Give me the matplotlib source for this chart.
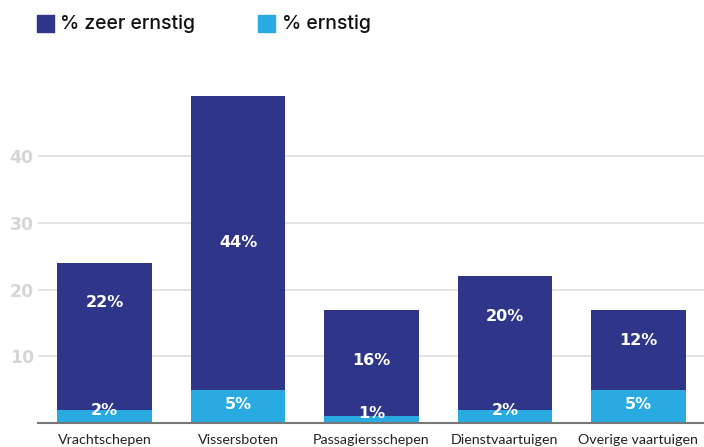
import numpy as np
import matplotlib
matplotlib.use('agg')
import matplotlib.pyplot as plt
from matplotlib.patches import Rectangle

categories = ['Vrachtschepen', 'Vissersboten', 'Passagiersschepen', 'Dienstvaartuigen', 'Overige vaartuigen']
ernstig = [2, 5, 1, 2, 5]
zeer_ernstig = [22, 44, 16, 20, 12]
yticks = [10, 20, 30, 40]

# label heights (layout)
lbl_top = [18.1, 27.0, 9.4, 15.9, 12.4]
lbl_bot = [1.9, 2.7, 1.4, 1.8, 2.7]

navy = '#2f3589'
blue = '#29abe2'

plt.rcParams['font.family'] = ['Lato', 'DejaVu Sans']

fig = plt.figure(figsize=(7.04, 4.47), dpi=100)
ax = fig.add_axes([38 / 704, 24 / 447, 667 / 704, 347 / 447])

x = np.arange(len(categories))
ax.bar(x, ernstig, width=0.71, color=blue, zorder=2)
ax.bar(x, zeer_ernstig, width=0.71, bottom=ernstig, color=navy, zorder=2)

for i in range(len(categories)):
    ax.text(x[i], lbl_top[i], '%d%%' % zeer_ernstig[i], color='white', ha='center', va='center',
            fontsize=11.5, fontweight='bold', family='DejaVu Sans', zorder=3)
    ax.text(x[i], lbl_bot[i], '%d%%' % ernstig[i], color='white', ha='center', va='center',
            fontsize=11.5, fontweight='bold', family='DejaVu Sans', zorder=3)

ax.set_xlim(-0.5, 4.5)
ax.set_ylim(0, 52)
ax.set_yticks(yticks)
ax.set_yticklabels([str(t) for t in yticks], color='#d6d6d6', fontsize=12.5, fontweight='bold',
                   family='DejaVu Sans')
ax.tick_params(axis='y', length=0, pad=3)
ax.set_xticks(x)
ax.set_xticklabels(categories, fontsize=10.3, color='#222222')
ax.tick_params(axis='x', length=0, pad=8)
ax.yaxis.grid(True, color='#dedede', linewidth=1.2, zorder=0)
for s in ['top', 'right', 'left']:
    ax.spines[s].set_visible(False)
ax.spines['bottom'].set_color('#777777')
ax.spines['bottom'].set_linewidth(1.5)
ax.spines['bottom'].set_zorder(4)

# legend
fig.patches.append(Rectangle((37 / 704, 1 - 32 / 447), 17 / 704, 17 / 447, color=navy, transform=fig.transFigure))
fig.text(60 / 704, 1 - 24 / 447, '% zeer ernstig', fontsize=14, fontweight='medium', va='center',
         color='#111111', family='Inter')
fig.patches.append(Rectangle((258 / 704, 1 - 32 / 447), 17 / 704, 17 / 447, color=blue, transform=fig.transFigure))
fig.text(282 / 704, 1 - 24 / 447, '% ernstig', fontsize=14, fontweight='medium', va='center',
         color='#111111', family='Inter')

fig.savefig('out.png', dpi=100)
